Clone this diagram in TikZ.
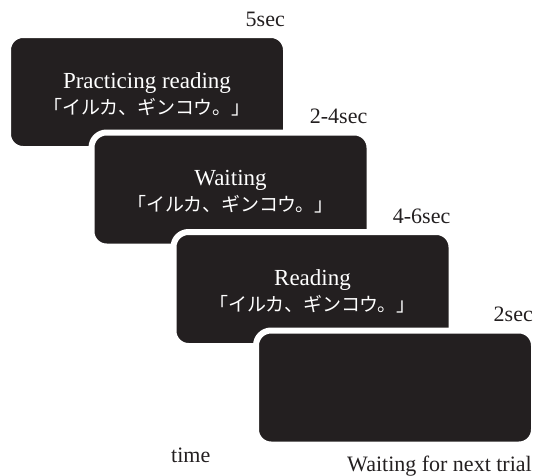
\documentclass[tikz,border=0pt]{standalone}
\usepackage{fontspec}
\setmainfont{Liberation Serif}
\newfontfamily\jpfont{Noto Sans CJK JP}
\definecolor{boxc}{HTML}{231F20}
\begin{document}
\begin{tikzpicture}[x=1pt,y=-1pt,
  box/.style={rectangle, rounded corners=15pt, fill=boxc, draw=white, line width=6pt,
    minimum width=278pt, minimum height=114pt, inner sep=0pt},
  boxtext/.style={text=white, inner sep=0pt, align=center, font=\fontsize{23}{26}\selectfont},
  durlabel/.style={anchor=base east, text=boxc, inner sep=0pt, font=\fontsize{22}{26}\selectfont},
  plain/.style={text=boxc, inner sep=0pt, font=\fontsize{22}{26}\selectfont}]
\useasboundingbox (0,0) rectangle (533,475);
\node[box] (b1) at (147,92) {};
\node[boxtext] (t1) at ([yshift=-2pt]b1.center) {Practicing reading\\{\fontsize{19}{22}\jpfont 「イルカ、ギンコウ。」}};
\node[box] (b2) at (230.5,189.5) {};
\node[boxtext] (t2) at ([yshift=-2pt]b2.center) {Waiting\\{\fontsize{19}{22}\jpfont 「イルカ、ギンコウ。」}};
\node[box] (b3) at (312.5,289) {};
\node[boxtext] (t3) at ([yshift=-2pt]b3.center) {Reading\\{\fontsize{19}{22}\jpfont 「イルカ、ギンコウ。」}};
\node[box] (b4) at (395,387.5) {};
\node[durlabel] (l1) at ([xshift=-4pt,yshift=6pt]b1.north east) {5sec};
\node[durlabel] (l2) at ([xshift=-5pt,yshift=6pt]b2.north east) {2-4sec};
\node[durlabel] (l3) at ([xshift=-4pt,yshift=6pt]b3.north east) {4-6sec};
\node[durlabel] (l4) at ([xshift=-4pt,yshift=6pt]b4.north east) {2sec};
\node[plain, anchor=base west] (time) at (171,462) {time};
\node[plain, anchor=base east] (next) at (532,471) {Waiting for next trial};
\end{tikzpicture}
\end{document}
